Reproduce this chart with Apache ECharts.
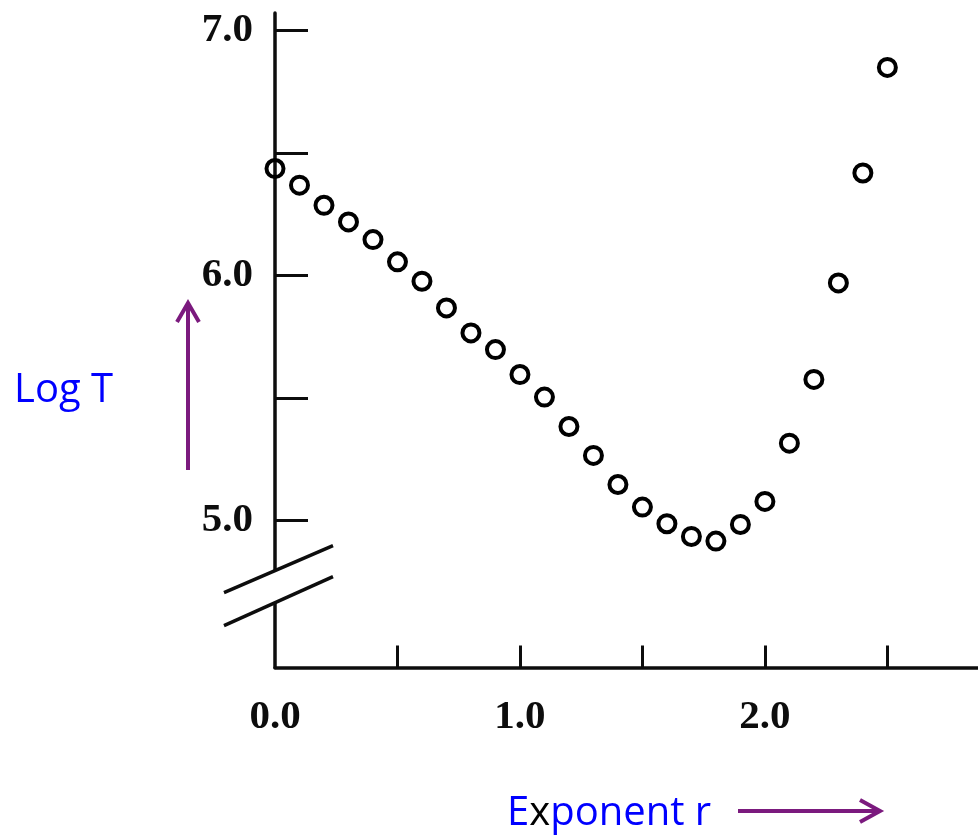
<!DOCTYPE html>
<html><head><meta charset="utf-8">
<script src="https://cdn.jsdelivr.net/npm/echarts@6/dist/echarts.min.js"></script>
<style>html,body{margin:0;padding:0;background:#fff}#c{width:978px;height:839px}</style>
</head><body><div id="c"></div>
<script>
const rValues = [0.0,0.1,0.2,0.3,0.4,0.5,0.6,0.7,0.8,0.9,1.0,1.1,1.2,1.3,1.4,1.5,1.6,1.7,1.8,1.9,2.0,2.1,2.2,2.3,2.4,2.5];
const logT = [6.437,6.369,6.287,6.219,6.147,6.056,5.977,5.868,5.766,5.698,5.596,5.504,5.384,5.266,5.147,5.055,4.987,4.935,4.916,4.984,5.078,5.316,5.576,5.970,6.419,6.850];
const xTickValues = [0.5,1.0,1.5,2.0,2.5];
const xLabelValues = [0.0,1.0,2.0];
const yTickValues = [5.0,5.5,6.0,6.5,7.0];
const yLabelValues = [5.0,6.0,7.0];
const xTitle = 'Exponent r';
const yTitle = 'Log T';
const breakValue = 4.73;

const chart = echarts.init(document.getElementById('c'), null, {renderer:'canvas'});
const labelFont = {fontFamily:'Liberation Serif', fontWeight:'bold', fontSize:41, color:'#0d0d0d'};
const purple = '#7b1a7e';

chart.setOption({
  animation:false,
  grid:{left:275, top:13, right:0, bottom:171.5, containLabel:false},
  xAxis:{
    type:'value', min:0, max:2.87,
    axisLine:{show:true, onZero:false, lineStyle:{color:'#0d0d0d', width:3.5}},
    axisTick:{show:true, inside:true, length:22, customValues:xTickValues, lineStyle:{color:'#0d0d0d', width:3}},
    axisLabel:Object.assign({show:true, margin:29, customValues:xLabelValues, formatter:v=>Number(v).toFixed(1)}, labelFont),
    splitLine:{show:false}
  },
  yAxis:{
    type:'value', min:4.4, max:7.072,
    axisLine:{show:true, onZero:false, lineStyle:{color:'#0d0d0d', width:3.5}},
    axisTick:{show:true, inside:true, length:33, customValues:yTickValues, lineStyle:{color:'#0d0d0d', width:3}},
    axisLabel:Object.assign({show:true, margin:22, customValues:yLabelValues, formatter:v=>Number(v).toFixed(1)}, labelFont),
    splitLine:{show:false}
  },
  series:[{
    type:'scatter',
    data:rValues.map((r,i)=>[r, logT[i]]),
    symbol:'circle', symbolSize:17, clip:false,
    itemStyle:{color:'rgba(0,0,0,0)', borderColor:'#000', borderWidth:4, opacity:1},
    emphasis:{disabled:true}
  }]
});

const bp = chart.convertToPixel({gridIndex:0}, [0, breakValue]);
const bx = bp[0], by = bp[1];
chart.setOption({
  graphic:[
    {type:'polygon', z:100, shape:{points:[[bx-51,by+6],[bx+58,by-41],[bx+58,by-10],[bx-51,by+39]]}, style:{fill:'#fff', stroke:null}},
    {type:'line', z:101, shape:{x1:bx-51,y1:by+6,x2:bx+58,y2:by-41}, style:{stroke:'#0d0d0d', lineWidth:3.5}},
    {type:'line', z:101, shape:{x1:bx-51,y1:by+39,x2:bx+58,y2:by-10}, style:{stroke:'#0d0d0d', lineWidth:3.5}},
    {type:'text', z:101, left:14, top:371, style:{text:yTitle, fontFamily:'Open Sans', fontSize:40, fill:'#0000ff'}},
    {type:'text', z:101, left:507, top:794, style:{
      text:'{b|E}{k|x}{b|ponent r}',
      rich:{b:{fontFamily:'Open Sans', fontSize:40, fill:'#0000ff'}, k:{fontFamily:'Open Sans', fontSize:40, fill:'#000000'}}
    }},
    {type:'line', z:101, shape:{x1:188,y1:470,x2:188,y2:304}, style:{stroke:purple, lineWidth:4}},
    {type:'polyline', z:101, shape:{points:[[177,322],[188,303],[199,322]]}, style:{stroke:purple, lineWidth:4, fill:null, lineJoin:'miter'}},
    {type:'line', z:101, shape:{x1:738,y1:811,x2:880,y2:811}, style:{stroke:purple, lineWidth:4}},
    {type:'polyline', z:101, shape:{points:[[860,800],[880,811],[860,822]]}, style:{stroke:purple, lineWidth:4, fill:null, lineJoin:'miter'}}
  ]
});
</script></body></html>
